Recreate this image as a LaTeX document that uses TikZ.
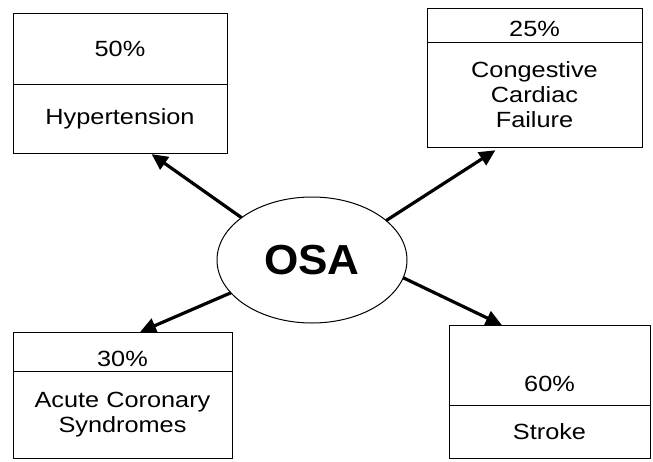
\documentclass[tikz,border=0pt]{standalone}
\usepackage{fontspec}
\setmainfont[FakeStretch=1.15]{Liberation Sans}
\newfontfamily\osafont[FakeStretch=1.05]{Liberation Sans}
\usetikzlibrary{arrows.meta,positioning,shapes.geometric}

\tikzset{
  part/.style={draw, line width=1pt, anchor=north west, inner sep=0pt, outer sep=0pt, align=center, font=\fontsize{22}{25}\selectfont},
  txt/.style={inner sep=0pt, font=\fontsize{22}{25}\selectfont},
  link/.style={line width=3.2pt, -{Triangle[length=16pt,width=15pt]}}
}

\begin{document}
\begin{tikzpicture}[x=1pt,y=-1pt]
	 \useasboundingbox (0,0) rectangle (653,461);
	 \node[draw, ellipse, line width=1pt, minimum width=190pt, minimum height=126pt, inner sep=0pt, outer sep=0pt, font=\osafont\fontsize{42}{42}\selectfont\bfseries] (osa) at (312,260) {OSA};
	 % upper boxes
	 \node[part, minimum width=214pt, minimum height=71pt] (hypT) at (13,13) {50\%};
	 \node[part, minimum width=214pt, minimum height=69pt] (hypB) at (13,84) {Hypertension};
	 \node[part, minimum width=215pt, minimum height=34pt] (ccfT) at (427,8) {};
	 \node[txt, above=5pt of ccfT.south] (ccfP) {25\%};
	 \node[part, minimum width=215pt, minimum height=105pt] (ccfB) at (427,42) {Congestive\\Cardiac\\Failure};
	 % lower boxes
	 \node[part, minimum width=219pt, minimum height=39pt] (acsT) at (13,332) {};
	 \node[txt, above=4pt of acsT.south] (acsP) {30\%};
	 \node[part, minimum width=219pt, minimum height=87pt] (acsB) at (13,371) {Acute Coronary\\Syndromes};
	 \node[part, minimum width=201pt, minimum height=80pt] (strT) at (449,325) {};
	 \node[txt, above=13pt of strT.south] (strP) {60\%};
	 \node[part, minimum width=201pt, minimum height=53pt] (strB) at (449,405) {Stroke};
	 % arrows
	 \draw[link, shorten >=2pt] (osa.149) -- (hypB.-49);
	 \draw[link, shorten >=6pt] (osa.28) -- (ccfB.-123);
	 \draw[link] (osa.-158) -- (acsT.48);
	 \draw[link] (osa.-11) -- (strT.140);
\end{tikzpicture}
\end{document}
